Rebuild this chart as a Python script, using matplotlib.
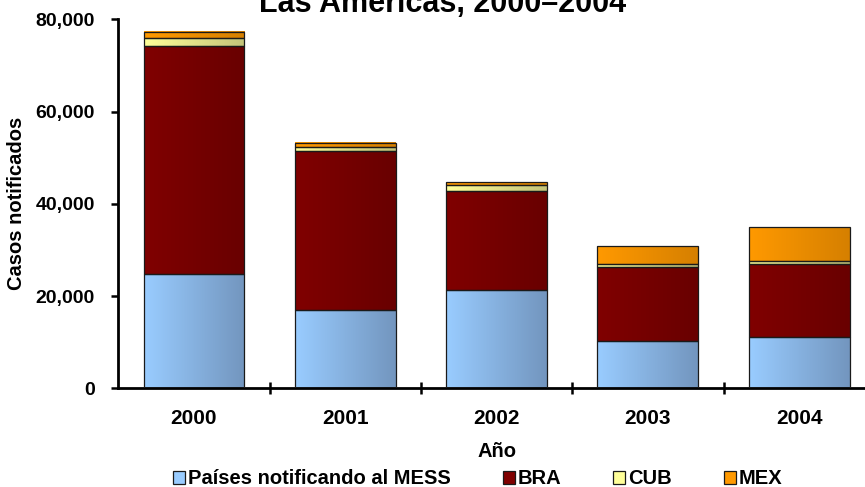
import matplotlib
matplotlib.use("Agg")
import matplotlib.pyplot as plt
import numpy as np
from matplotlib.colors import LinearSegmentedColormap
from matplotlib.patches import Patch
from matplotlib.ticker import FuncFormatter, FixedLocator

plt.rcParams['font.family'] = ['Liberation Sans', 'DejaVu Sans']
plt.rcParams['font.weight'] = 'bold'

# data
years = ['2000', '2001', '2002', '2003', '2004']
mess = [24740, 16920, 21410, 10270, 11070]
bra = [49400, 34430, 21270, 15980, 15980]
cub = [1740, 860, 1300, 800, 570]
mex = [1420, 1010, 650, 3830, 7250]

series = [
    ('Países notificando al MESS', mess, '#99CCFF', '#7396BF'),
    ('BRA', bra, '#800000', '#690000'),
    ('CUB', cub, '#FFFF99', '#C4C47A'),
    ('MEX', mex, '#FF9900', '#D68000'),
]

fig = plt.figure(figsize=(8.65, 4.87), dpi=100)
ax = fig.add_axes([0.1368, 0.2027, 0.8746, 0.7577])

x = np.arange(len(years))
bottom = np.zeros(len(years))
grad = np.linspace(0, 1, 64).reshape(1, -1)
handles = []
for name, vals, c0, c1 in series:
    bars = ax.bar(x, vals, bottom=bottom, width=0.667, facecolor='none',
                  edgecolor='#1a1a1a', linewidth=0.9, zorder=3)
    cmap = LinearSegmentedColormap.from_list(name, [c0, c1])
    for r in bars:
        x0, y0 = r.get_x(), r.get_y()
        ax.imshow(grad, cmap=cmap, aspect='auto', interpolation='bilinear',
                  extent=[x0, x0 + r.get_width(), y0, y0 + r.get_height()],
                  zorder=2)
    handles.append(Patch(facecolor=c0, edgecolor='#1a1a1a', linewidth=0.9, label=name))
    bottom += np.array(vals)

ax.set_xlim(-0.5, 4.5)
ax.set_ylim(0, 80000)

ax.spines['top'].set_visible(False)
ax.spines['right'].set_visible(False)
ax.spines['left'].set_linewidth(2)
ax.spines['bottom'].set_linewidth(2)

ax.set_yticks([0, 20000, 40000, 60000, 80000])
ax.yaxis.set_major_formatter(FuncFormatter(lambda v, p: f'{int(v):,}'))
ax.tick_params(axis='y', direction='out', length=5, width=1.8, pad=12, labelsize=14)

ax.xaxis.set_major_locator(FixedLocator([0.5, 1.5, 2.5, 3.5]))
ax.xaxis.set_minor_locator(FixedLocator(x))
ax.set_xticklabels([], minor=False)
ax.set_xticklabels(years, minor=True)
ax.tick_params(axis='x', which='major', direction='inout', length=9, width=1.8)
ax.tick_params(axis='x', which='minor', length=0, pad=15, labelsize=15)

ax.set_ylabel('Casos notificados', fontsize=14.5, fontweight='bold')
ax.yaxis.set_label_coords(-0.122, 0.5)
ax.set_xlabel('Año', fontsize=14.5, fontweight='bold')
ax.xaxis.set_label_coords(0.5, -0.172)
ax.xaxis.label.set_va('center')

fig.text(443 / 865, 0.976, 'Las Américas, 2000–2004', ha='center', va='baseline',
         fontsize=22, fontweight='bold')

fig.legend(handles=handles, loc='center', bbox_to_anchor=(477.5 / 865, 8 / 487),
           ncol=4, frameon=False, fontsize=14.5, handlelength=0.6, handleheight=0.6,
           handletextpad=0.12, columnspacing=2.6, borderaxespad=0)

fig.savefig('out.png', dpi=100)
